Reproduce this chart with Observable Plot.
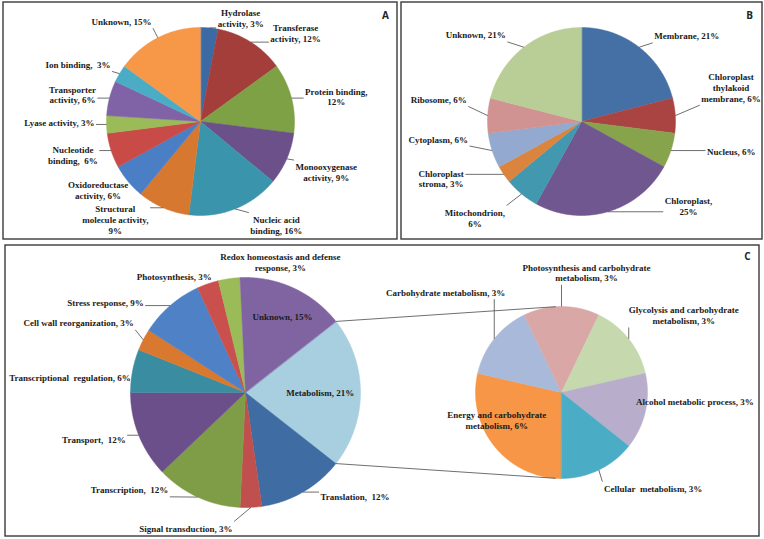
<!DOCTYPE html>
<html><head><meta charset="utf-8">
<script src="https://cdn.jsdelivr.net/npm/d3@7"></script>
<script src="https://cdn.jsdelivr.net/npm/@observablehq/plot@0.6"></script>
<style>body{margin:0;background:#fff;} #chart svg{display:block;}</style>
</head><body><div id="chart"></div>
<script>
// ---------------- DATA ----------------
// Panel A: molecular function
const aCategories = ["Hydrolase activity","Transferase activity","Protein binding","Monooxygenase activity","Nucleic acid binding","Structural molecule activity","Oxidoreductase activity","Nucleotide binding","Lyase activity","Transporter activity","Ion binding","Unknown"];
const aValues = [3,12,12,9,16,9,6,6,3,6,3,15];
const aLabels = ["Hydrolase\nactivity, 3%","Transferase\nactivity, 12%","Protein binding,\n12%","Monooxygenase\nactivity, 9%","Nucleic acid\nbinding, 16%","Structural\nmolecule activity,\n9%","Oxidoreductase\nactivity, 6%","Nucleotide\nbinding,\u00a0 6%","Lyase activity, 3%","Transporter\nactivity, 6%","Ion binding,\u00a0 3%","Unknown, 15%"];

// Panel B: cellular component
const bCategories = ["Membrane","Chloroplast thylakoid membrane","Nucleus","Chloroplast","Mitochondrion","Chloroplast stroma","Cytoplasm","Ribosome","Unknown"];
const bValues = [21,6,6,25,6,3,6,6,21];
const bLabels = ["Membrane, 21%","Chloroplast\nthylakoid\nmembrane, 6%","Nucleus, 6%","Chloroplast,\n25%","Mitochondrion,\n6%","Chloroplast\nstroma, 3%","Cytoplasm, 6%","Ribosome, 6%","Unknown, 21%"];

// Panel C: biological process (main pie, clockwise from the split-out slice)
const cCategories = ["Metabolism","Translation","Signal transduction","Transcription","Transport","Transcriptional regulation","Cell wall reorganization","Stress response","Photosynthesis","Redox homeostasis and defense response","Unknown"];
const cValues = [21,12,3,12,12,6,3,9,3,3,15];
const cLabels = ["Metabolism, 21%","Translation,\u00a0 12%","Signal transduction, 3%","Transcription,\u00a0 12%","Transport,\u00a0 12%","Transcriptional\u00a0 regulation, 6%","Cell wall reorganization, 3%","Stress response, 9%","Photosynthesis, 3%","Redox homeostasis and defense\nresponse, 3%","Unknown, 15%"];

// Panel C: secondary pie (breakdown of Metabolism)
const dCategories = ["Energy and carbohydrate metabolism","Carbohydrate metabolism","Photosynthesis and carbohydrate metabolism","Glycolysis and carbohydrate metabolism","Alcohol metabolic process","Cellular metabolism"];
const dValues = [6,3,3,3,3,3];
const dLabels = ["Energy and carbohydrate\nmetabolism, 6%","Carbohydrate metabolism, 3%","Photosynthesis and carbohydrate\nmetabolism, 3%","Glycolysis and carbohydrate\nmetabolism, 3%","Alcohol metabolic process, 3%","Cellular\u00a0 metabolism, 3%"];

const panelNames = ["A","B","C"];

// ---------------- STYLE ----------------
const aColors = ["#3C6AA5","#A43E3B","#7FA146","#6B508A","#3A95AC","#D6782F","#4A7EC5","#C84B48","#9BBB59","#7F63A6","#4BACC6","#F79748"];
const bColors = ["#4470A6","#A94442","#87A44C","#71578F","#4198AF","#DA843D","#93A9CF","#D09391","#B9CD96"];
const cColors = ["#A8CFDF","#3E6CA3","#C0504D","#7E9D46","#6A4F8A","#3A8CA0","#D8792F","#4E81C5","#C9504D","#9BBB59","#8064A2"];
const dColors = ["#F79646","#A9B9D9","#D9A7A6","#C6D8AD","#B8AECB","#4BACC6"];
const FONT = "Liberation Serif";
const FS = 9, LH = 1.2;

// ---------------- LAYOUT ----------------
const W = 764, H = 539;
const panelBoxes = [
  {x1:3, y1:2, x2:397, y2:239, lx:385, ly:15},
  {x1:401, y1:2, x2:762, y2:239, lx:749, ly:15},
  {x1:5, y1:245, x2:759, y2:536, lx:747, ly:256}
];
const cStart = 90 - cValues[0] / d3.sum(cValues) * 180; // split slice centred at 3 o'clock
const pies = [
  {key:"A", labels:aLabels, values:aValues, colors:aColors, cx:200, cy:121, r:94, start:0, R:108, inR:0.65,
   modes:["s","s","s","s","s","e","e","e","e","e","e","e"],
   nudges:[[7,4],[12,3],[0,2],[-4,8],[10,3],[-9,-1],[11,0],[0,0],[2,-2],[0,0],[3,-2],[0,-4]]},
  {key:"B", labels:bLabels, values:bValues, colors:bColors, cx:581, cy:121, r:94, start:0, R:112, inR:0.65,
   modes:["s","s","s","s","e","e","e","e","e"],
   nudges:[[4,3],[8,-27],[19,-5],[52,-23],[-5,10],[-25,-6],[-7,-17],[-3,-15],[-7,2]]},
  {key:"C", labels:cLabels, values:cValues, colors:cColors, cx:245, cy:392, r:115, start:cStart, R:128, inR:0.65,
   modes:["i","s","e","e","e","e","e","e","e","s","i"],
   nudges:[[0,0],[11,-7],[-19,8],[-24,-19],[-1,-1],[11,9],[2,-11],[-18,7],[8,5],[-7,-4],[6,-8]]},
  {key:"D", labels:dLabels, values:dValues, colors:dColors, cx:561, cy:392, r:86, start:180, R:100, inR:0.65,
   modes:["i","e","m","s","s","s"],
   nudges:[[-21,-7],[22,-38],[25,-20],[-11,-15],[-23,-13],[-1,6]]}
];

// ---------------- GEOMETRY ----------------
const ctx = document.createElement("canvas").getContext("2d");
ctx.font = `bold ${FS}px '${FONT}'`;
const measure = s => ctx.measureText(s).width;
const rad = a => a * Math.PI / 180;
const polar = (p, a, rr) => [p.cx + rr * Math.sin(rad(a)), p.cy - rr * Math.cos(rad(a))];

const slicePts = [], labelRows = [], leaders = [];
for (const p of pies) {
  const total = d3.sum(p.values);
  let a = p.start;
  p.angles = [];
  p.values.forEach((v, i) => {
    const a0 = a, a1 = a + v / total * 360; a = a1;
    p.angles.push([a0, a1]);
    const id = p.key + i;
    slicePts.push({id, x:p.cx, y:p.cy, color:p.colors[i]});
    const n = Math.max(2, Math.ceil((a1 - a0) / 0.5));
    for (let k = 0; k <= n; k++) {
      const [x, y] = polar(p, a0 + (a1 - a0) * k / n, p.r);
      slicePts.push({id, x, y, color:p.colors[i]});
    }
    // label
    const m = (a0 + a1) / 2, mode = p.modes[i], [dx, dy] = p.nudges[i];
    const lines = p.labels[i].split("\n");
    const w = d3.max(lines, measure), h = lines.length * FS * LH;
    let [ax, ay] = polar(p, m, mode === "i" ? p.inR * p.r : p.R);
    ax += dx; ay += dy;
    const bx = mode === "s" ? ax + w / 2 : mode === "e" ? ax - w / 2 : ax;
    labelRows.push({x:bx, y:ay, text:p.labels[i]});
    if (mode !== "i") {
      const [px, py] = polar(p, m, p.r);
      const pad = 1.5;
      const qx = Math.max(bx - w / 2 - pad, Math.min(bx + w / 2 + pad, px));
      const qy = Math.max(ay - h / 2 - pad, Math.min(ay + h / 2 + pad, py));
      if (Math.hypot(px - qx, py - qy) > 5) leaders.push({x1:qx, y1:qy, x2:px, y2:py});
    }
  });
}

// pie-of-pie connectors: from split slice edges to tangents of secondary pie
const main = pies[2], sec = pies[3];
function tangent(P, top) {
  const vx = P[0] - sec.cx, vy = P[1] - sec.cy, d = Math.hypot(vx, vy);
  const th = Math.atan2(vy, vx), al = Math.acos(sec.r / d);
  const c = [th + al, th - al].map(t => [sec.cx + sec.r * Math.cos(t), sec.cy + sec.r * Math.sin(t)]);
  return top ? (c[0][1] < c[1][1] ? c[0] : c[1]) : (c[0][1] > c[1][1] ? c[0] : c[1]);
}
const connectors = [main.angles[0][0], main.angles[0][1]].map((ang, j) => {
  const P = polar(main, ang, main.r);
  const T = tangent(P, j === 0);
  return {x1:P[0], y1:P[1], x2:T[0], y2:T[1]};
});

const panels = panelBoxes.map((b, i) => ({...b, name:panelNames[i]}));

// ---------------- PLOT ----------------
const chart = Plot.plot({
  width: W, height: H, margin: 0,
  x: {domain:[0, W], range:[0, W], axis:null},
  y: {domain:[0, H], range:[0, H], axis:null},
  color: {type:"identity"},
  style: {background:"white"},
  marks: [
    Plot.line(slicePts, {x:"x", y:"y", z:"id", fill:"color", stroke:"color", strokeWidth:0.5, curve:"linear-closed"}),
    Plot.link(connectors, {x1:"x1", y1:"y1", x2:"x2", y2:"y2", stroke:"#4a4a4a", strokeWidth:0.8}),
    Plot.link(leaders, {x1:"x1", y1:"y1", x2:"x2", y2:"y2", stroke:"#4a4a4a", strokeWidth:0.8}),
    Plot.text(labelRows, {x:"x", y:"y", text:"text", fontFamily:FONT, fontWeight:"bold", fontSize:FS, lineHeight:LH, fill:"#1a1a1a"}),
    Plot.rect(panels, {x1:"x1", x2:"x2", y1:"y1", y2:"y2", fill:"none", stroke:"#3a3a3a", strokeWidth:1.4}),
    Plot.text(panels, {x:"lx", y:"ly", text:"name", fontFamily:"Open Sans", fontWeight:"bold", fontSize:10, fill:"#222"})
  ]
});
document.getElementById("chart").appendChild(chart);
</script>
</body></html>
